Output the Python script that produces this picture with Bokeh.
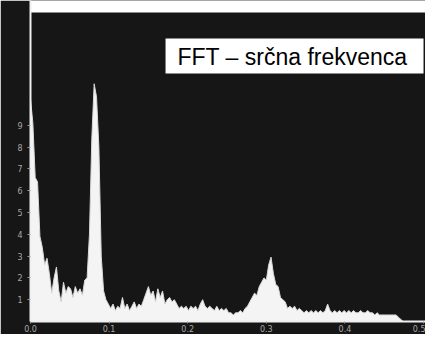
from bokeh.plotting import figure
from bokeh.models import FixedTicker, BoxAnnotation, Label, Range1d
from bokeh.embed import file_html
from bokeh.resources import INLINE

# --- data ---
freq_step = 0.003
amplitude = [
    10.2, 9.1, 6.6, 6.4, 3.9, 3.4, 2.6, 2.9, 2.2, 1.3,
    2.0, 2.5, 1.4, 0.9, 1.8, 1.3, 1.6, 1.5, 1.1, 1.6,
    1.3, 1.5, 1.2, 1.9, 2.0, 4.0, 8.4, 10.9, 10.3, 8.0,
    3.0, 1.4, 1.0, 0.8, 0.6, 0.8, 0.5, 0.7, 0.6, 1.1,
    0.6, 0.8, 0.5, 0.7, 0.9, 0.6, 0.8, 0.7, 1.0, 1.3,
    1.6, 1.2, 1.4, 0.9, 1.5, 1.1, 1.4, 0.8, 1.0, 1.1,
    0.9, 1.0, 0.8, 0.6, 0.7, 0.6, 0.7, 0.5, 0.7, 0.6,
    0.7, 0.5, 0.8, 1.0, 0.7, 0.6, 0.7, 0.6, 0.5, 0.7,
    0.5, 0.6, 0.5, 0.6, 0.4, 0.4, 0.3, 0.4, 0.4, 0.5,
    0.4, 0.6, 0.7, 0.9, 1.1, 1.3, 1.2, 1.6, 1.8, 2.0,
    1.9, 2.6, 2.95, 2.2, 1.7, 1.6, 1.1, 1.0, 0.9, 0.6,
    0.7, 0.6, 0.7, 0.5, 0.6, 0.5, 0.4, 0.5, 0.4, 0.5,
    0.4, 0.5, 0.4, 0.5, 0.4, 0.5, 0.8, 0.5, 0.4, 0.5,
    0.4, 0.5, 0.4, 0.5, 0.4, 0.5, 0.4, 0.5, 0.4, 0.4,
    0.5, 0.4, 0.4, 0.5, 0.4, 0.4, 0.3, 0.4, 0.3, 0.3,
    0.3, 0.3, 0.3, 0.3, 0.3, 0.3, 0.2, 0.1, 0.0,
]
frequency = [round(i * freq_step, 3) for i in range(len(amplitude))]

x_ticks = [0.0, 0.1, 0.2, 0.3, 0.4, 0.5]
x_tick_labels = ["0.0", "0.1", "0.2", "0.3", "0.4", "0.5"]
y_ticks = [1, 2, 3, 4, 5, 6, 7, 8, 9]
title_text = "FFT – srčna frekvenca"

BG = "#161616"

p = figure(width=425, height=334, output_backend="svg", toolbar_location=None,
           x_range=Range1d(0, 0.5025), y_range=Range1d(0, 14.72),
           background_fill_color=BG, border_fill_color=BG,
           min_border_left=30, min_border_right=0, min_border_top=0,
           min_border_bottom=13)
p.outline_line_color = None
p.grid.visible = False

# white paper strip along the top of the scan
p.add_layout(BoxAnnotation(bottom=14.17, fill_color="white", fill_alpha=1.0,
                           line_color=None, level="underlay"))

p.varea(x=frequency, y1=0, y2=amplitude, fill_color="#f4f4f4")
p.line(x=frequency, y=amplitude, line_color="#d8d8d8", line_width=1)

p.xaxis.ticker = FixedTicker(ticks=x_ticks)
p.xaxis.major_label_overrides = {t: l for t, l in zip(x_ticks, x_tick_labels)}
p.yaxis.ticker = FixedTicker(ticks=y_ticks)

for ax in (p.xaxis, p.yaxis):
    ax.axis_line_color = "#f0f0f0"
    ax.axis_line_width = 2
    ax.major_tick_line_color = "#9a9a9a"
    ax.major_tick_in = 0
    ax.minor_tick_line_color = None
    ax.major_label_text_color = "#a8a8a8"
    ax.major_label_text_font = "DejaVu Sans"
    ax.major_label_text_font_size = "8px"
p.xaxis.major_tick_out = 2
p.xaxis.major_label_standoff = 1
p.yaxis.major_tick_out = 3
p.yaxis.major_label_standoff = 5

p.add_layout(BoxAnnotation(left=0.1718, right=0.5, bottom=11.37, top=12.98,
                           fill_color="white", fill_alpha=1.0, line_color=None))
p.add_layout(Label(x=0.187, y=12.15, text=title_text, text_font="Liberation Sans",
                   text_font_size="23px", text_color="black",
                   text_baseline="middle", text_align="left"))

open("out.html", "w").write(file_html(p, INLINE))
